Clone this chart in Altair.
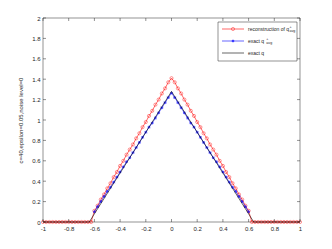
import altair as alt
import pandas as pd

# ---------------- data ----------------
x_grid = [-1.0, -0.975, -0.95, -0.925, -0.9, -0.875, -0.85, -0.825, -0.8, -0.775,
          -0.75, -0.725, -0.7, -0.675, -0.65, -0.625, -0.6, -0.575, -0.55, -0.525,
          -0.5, -0.475, -0.45, -0.425, -0.4, -0.375, -0.35, -0.325, -0.3, -0.275,
          -0.25, -0.225, -0.2, -0.175, -0.15, -0.125, -0.1, -0.075, -0.05, -0.025,
          0.0, 0.025, 0.05, 0.075, 0.1, 0.125, 0.15, 0.175, 0.2, 0.225,
          0.25, 0.275, 0.3, 0.325, 0.35, 0.375, 0.4, 0.425, 0.45, 0.475,
          0.5, 0.525, 0.55, 0.575, 0.6, 0.625, 0.65, 0.675, 0.7, 0.725,
          0.75, 0.775, 0.8, 0.825, 0.85, 0.875, 0.9, 0.925, 0.95, 0.975, 1.0]

reconstruction = [0, 0, 0, 0, 0, 0, 0, 0, 0, 0,
                  0, 0, 0, 0, 0, 0, 0.11, 0.16, 0.22, 0.27,
                  0.33, 0.38, 0.44, 0.49, 0.55, 0.60, 0.66, 0.71, 0.76, 0.82,
                  0.87, 0.93, 0.98, 1.04, 1.09, 1.15, 1.20, 1.26, 1.31, 1.37,
                  1.41, 1.37, 1.31, 1.26, 1.20, 1.15, 1.09, 1.04, 0.98, 0.93,
                  0.87, 0.82, 0.76, 0.71, 0.66, 0.60, 0.55, 0.49, 0.44, 0.38,
                  0.33, 0.27, 0.22, 0.16, 0.11, 0, 0, 0, 0, 0,
                  0, 0, 0, 0, 0, 0, 0, 0, 0, 0, 0]

x_avg = [-0.6, -0.575, -0.55, -0.525, -0.5, -0.475, -0.45, -0.425, -0.4, -0.375,
         -0.35, -0.325, -0.3, -0.275, -0.25, -0.225, -0.2, -0.175, -0.15, -0.125,
         -0.1, -0.075, -0.05, -0.025, 0.0, 0.025, 0.05, 0.075, 0.1, 0.125,
         0.15, 0.175, 0.2, 0.225, 0.25, 0.275, 0.3, 0.325, 0.35, 0.375,
         0.4, 0.425, 0.45, 0.475, 0.5, 0.525, 0.55, 0.575, 0.6]

exact_avg = [0.10, 0.15, 0.20, 0.25, 0.30, 0.34, 0.39, 0.44, 0.49, 0.54,
             0.59, 0.63, 0.68, 0.73, 0.78, 0.83, 0.88, 0.93, 0.97, 1.02,
             1.07, 1.12, 1.17, 1.22, 1.265, 1.22, 1.17, 1.12, 1.07, 1.02,
             0.97, 0.93, 0.88, 0.83, 0.78, 0.73, 0.68, 0.63, 0.59, 0.54,
             0.49, 0.44, 0.39, 0.34, 0.30, 0.25, 0.20, 0.15, 0.10]

x_q = [-1.0, -0.64, 0.0, 0.64, 1.0]
q_exact = [0, 0, 1.28, 0, 0]

x_ticks = [-1, -0.8, -0.6, -0.4, -0.2, 0, 0.2, 0.4, 0.6, 0.8, 1]
y_ticks = [0, 0.2, 0.4, 0.6, 0.8, 1, 1.2, 1.4, 1.6, 1.8, 2]
y_title = "c=40,epsilon=0.05,noise level=0"
legend_main = ["reconstruction of q", "exact q", "exact q"]

# ---------------- styling ----------------
W, H = 257, 204
FONT = "Liberation Sans"
AX = "#262626"
RED = "#ff0000"
BLUE = "#0000ff"

xs = alt.Scale(domain=[-1, 1], nice=False, zero=False)
ys = alt.Scale(domain=[0, 2], nice=False, zero=False)

recon_df = pd.DataFrame({"x": x_grid, "y": reconstruction})
avg_df = pd.DataFrame({"x": x_avg, "y": exact_avg})
q_df = pd.DataFrame({"x": x_q, "y": q_exact})
xt_df = pd.DataFrame({"x": x_ticks})
yt_df = pd.DataFrame({"y": y_ticks})
one = pd.DataFrame({"a": [0]})

x_axis = alt.Axis(values=x_ticks, labelExpr="'' + datum.value", domain=False, ticks=False,
                  grid=False, labelFont=FONT, labelFontSize=6, labelColor=AX, labelPadding=3,
                  title=None, labelFlush=False)
y_axis = alt.Axis(values=y_ticks, labelExpr="'' + datum.value", domain=False, ticks=False,
                  grid=False, labelFont=FONT, labelFontSize=6, labelColor=AX, labelPadding=3,
                  title=y_title, titleFont=FONT, titleFontSize=6, titleFontWeight="normal",
                  titleColor=AX, titlePadding=8, labelFlush=False)


def X():
    return alt.X("x:Q", scale=xs, axis=x_axis)


def Y():
    return alt.Y("y:Q", scale=ys, axis=y_axis)


red_line = alt.Chart(recon_df).mark_line(color=RED, strokeWidth=0.6).encode(x=X(), y=Y())
red_pts = alt.Chart(recon_df).mark_point(shape="circle", color=RED, size=10, strokeWidth=0.6,
                                         filled=False).encode(x=X(), y=Y())

STAR = "M-1,0L1,0M0,-1L0,1M-0.7,-0.7L0.7,0.7M-0.7,0.7L0.7,-0.7"
blue_line = alt.Chart(avg_df).mark_line(color=BLUE, strokeWidth=0.6).encode(x=X(), y=Y())
blue_pts = alt.Chart(avg_df).mark_point(shape=STAR, color=BLUE, size=8, strokeWidth=0.9,
                                        filled=False).encode(x=X(), y=Y())

black_line = alt.Chart(q_df).mark_line(color="black", strokeWidth=0.6).encode(x=X(), y=Y())

# inward ticks on all four sides
tick_style = dict(color=AX, strokeWidth=0.5)
xt_bottom = alt.Chart(xt_df).mark_rule(**tick_style).encode(
    x=X(), y=alt.value(H), y2=alt.value(H - 3))
xt_top = alt.Chart(xt_df).mark_rule(**tick_style).encode(
    x=X(), y=alt.value(0), y2=alt.value(3))
yt_left = alt.Chart(yt_df).mark_rule(**tick_style).encode(
    y=Y(), x=alt.value(0), x2=alt.value(3))
yt_right = alt.Chart(yt_df).mark_rule(**tick_style).encode(
    y=Y(), x=alt.value(W), x2=alt.value(W - 3))

# ---------------- legend ----------------
LX0, LX1, LY0, LY1 = 175, 254, 4, 43
rows = [11, 23, 35]
L_LINE0, L_LINE1, L_MARK, L_TEXT = 179, 201, 190, 205
LFS = 5

leg_box = alt.Chart(one).mark_rect(fill="white", stroke=AX, strokeWidth=0.5).encode(
    x=alt.value(LX0), x2=alt.value(LX1), y=alt.value(LY0), y2=alt.value(LY1))

leg_layers = [leg_box]
colors = [RED, BLUE, "black"]
for i, (lab, col) in enumerate(zip(legend_main, colors)):
    yy = rows[i]
    leg_layers.append(alt.Chart(one).mark_rule(color=col, strokeWidth=0.6).encode(
        x=alt.value(L_LINE0), x2=alt.value(L_LINE1), y=alt.value(yy)))
    if i == 0:
        leg_layers.append(alt.Chart(one).mark_point(shape="circle", color=col, size=10,
                                                    strokeWidth=0.6, filled=False).encode(
            x=alt.value(L_MARK), y=alt.value(yy)))
    if i == 1:
        leg_layers.append(alt.Chart(one).mark_point(shape=STAR, color=col, size=8,
                                                    strokeWidth=0.9, filled=False).encode(
            x=alt.value(L_MARK), y=alt.value(yy)))
    tdf = pd.DataFrame({"t": [lab]})
    leg_layers.append(alt.Chart(tdf).mark_text(align="left", baseline="middle", font=FONT,
                                               fontSize=LFS, color=AX).encode(
        x=alt.value(L_TEXT), y=alt.value(yy), text="t:N"))
    if i < 2:
        w = {0: 8.23, 1: 3.61}[i] * LFS
        sup = pd.DataFrame({"t": ["+"]})
        sub = pd.DataFrame({"t": ["avg"]})
        leg_layers.append(alt.Chart(sup).mark_text(align="left", baseline="middle", font=FONT,
                                                   fontSize=3.6, color=AX).encode(
            x=alt.value(L_TEXT + w + 0.3), y=alt.value(yy - 2.2), text="t:N"))
        leg_layers.append(alt.Chart(sub).mark_text(align="left", baseline="middle", font=FONT,
                                                   fontSize=3.6, color=AX).encode(
            x=alt.value(L_TEXT + w + 0.3), y=alt.value(yy + 2.2), text="t:N"))

chart = alt.layer(
    red_line, red_pts, blue_line, blue_pts, black_line,
    xt_bottom, xt_top, yt_left, yt_right, *leg_layers
).properties(
    width=W, height=H,
    background="white",
    autosize=alt.AutoSizeParams(type="none"),
    padding={"left": 35, "top": 10, "right": 20, "bottom": 20},
).configure_view(
    stroke=AX, strokeWidth=0.5
)

chart.save("out.html", embed_options={"renderer": "svg", "actions": False})
